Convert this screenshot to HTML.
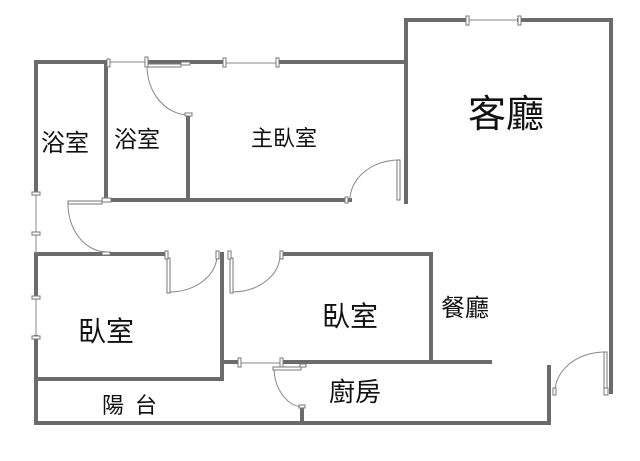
<!DOCTYPE html>
<html><head><meta charset="utf-8"><style>
html,body{margin:0;padding:0;background:#fff;}
svg{display:block;}
text{font-family:"Liberation Sans","Noto Sans CJK TC",sans-serif;fill:#111;text-anchor:middle;}
</style></head><body>
<svg width="640" height="461" viewBox="0 0 640 461" xmlns="http://www.w3.org/2000/svg">
<g stroke="#6b6b6b" stroke-width="4" fill="none" stroke-linecap="square">
<polyline points="36,193 36,62 106,62"/>
<line x1="147" y1="62" x2="224" y2="62"/>
<line x1="278" y1="62" x2="406" y2="62"/>
<polyline points="406,202 406,20 466,20"/>
<line x1="519" y1="20" x2="611" y2="20"/>
<line x1="611" y1="20" x2="611" y2="392"/>
<line x1="106" y1="62" x2="106" y2="200"/>
<line x1="188" y1="116" x2="188" y2="200"/>
<line x1="112" y1="200" x2="350" y2="200"/>
<line x1="36" y1="254" x2="166" y2="254"/>
<line x1="222" y1="254" x2="222" y2="379"/>
<line x1="283" y1="254" x2="431" y2="254"/>
<line x1="431" y1="254" x2="431" y2="362"/>
<line x1="222" y1="362" x2="239" y2="362"/>
<line x1="282" y1="362" x2="490" y2="362"/>
<line x1="36" y1="379" x2="222" y2="379"/>
<line x1="36" y1="254" x2="36" y2="297"/>
<line x1="36" y1="337" x2="36" y2="423"/>
<line x1="36" y1="423" x2="549" y2="423"/>
<line x1="549" y1="367" x2="549" y2="423"/>
<line x1="302" y1="407" x2="302" y2="423"/>
</g>
<g stroke="#888" stroke-width="1" fill="none">
<line x1="107" y1="62" x2="146" y2="62"/>
<line x1="224" y1="63" x2="278" y2="63"/>
<line x1="466" y1="20" x2="519" y2="20"/>
<line x1="36" y1="193" x2="36" y2="254"/>
<line x1="36" y1="297" x2="36" y2="337"/>
<line x1="239" y1="363" x2="282" y2="363"/>
<path d="M147,66 A42,49 0 0 0 188,115"/>
<path d="M68,204 A39,48 0 0 0 107,252"/>
<path d="M350,200 A49,40 0 0 1 399,160"/>
<path d="M170,292 A48,37 0 0 0 217,255"/>
<path d="M232,292 A48,37 0 0 0 280,255"/>
<path d="M274,367 A30,40 0 0 0 302,407"/>
<path d="M555,392 A50,40 0 0 1 604,352"/>
</g>
<g stroke="#777" stroke-width="1" fill="#fff">
<rect x="147" y="64" width="34" height="3"/><rect x="181" y="62" width="9" height="3"/>
<rect x="68" y="201" width="34" height="3"/><rect x="102" y="198" width="9" height="4"/>
<rect x="397" y="160" width="3" height="40"/>
<rect x="167" y="258" width="3" height="35"/><rect x="165" y="251" width="3" height="8"/>
<rect x="230" y="258" width="3" height="35"/><rect x="228" y="251" width="3" height="8"/>
<rect x="216" y="251" width="3" height="8"/><rect x="280" y="251" width="3" height="8"/>
<rect x="273" y="367" width="28" height="3"/><rect x="300" y="364" width="6" height="3"/>
<rect x="604" y="352" width="3" height="36"/><rect x="604" y="388" width="4" height="7"/>
<rect x="553" y="388" width="3" height="7"/>
<rect x="107" y="59" width="3" height="8"/><rect x="145" y="57" width="3" height="10"/>
<rect x="223" y="58" width="3" height="9"/><rect x="276" y="58" width="3" height="9"/>
<rect x="466" y="16" width="3" height="9"/><rect x="518" y="16" width="3" height="9"/>
<rect x="32" y="192" width="8" height="3"/><rect x="32" y="232" width="8" height="3"/>
<rect x="32" y="296" width="8" height="3"/><rect x="32" y="336" width="8" height="3"/>
<rect x="238" y="358" width="3" height="9"/><rect x="280" y="358" width="3" height="9"/>
<rect x="185" y="113" width="7" height="3"/><rect x="102" y="252" width="8" height="3"/>
<rect x="299" y="405" width="6" height="3"/><rect x="345" y="197" width="3" height="6"/>
</g>
<text x="65" y="151" font-size="24">浴室</text>
<text x="137" y="147" font-size="23">浴室</text>
<text x="284" y="146" font-size="22">主臥室</text>
<text x="506" y="127" font-size="38">客廳</text>
<text x="106" y="341" font-size="28">臥室</text>
<text x="135" y="413" font-size="22" letter-spacing="11">陽台</text>
<text x="350" y="326" font-size="28">臥室</text>
<text x="465" y="316" font-size="24">餐廳</text>
<text x="355" y="401" font-size="26">廚房</text>
</svg>
</body></html>
